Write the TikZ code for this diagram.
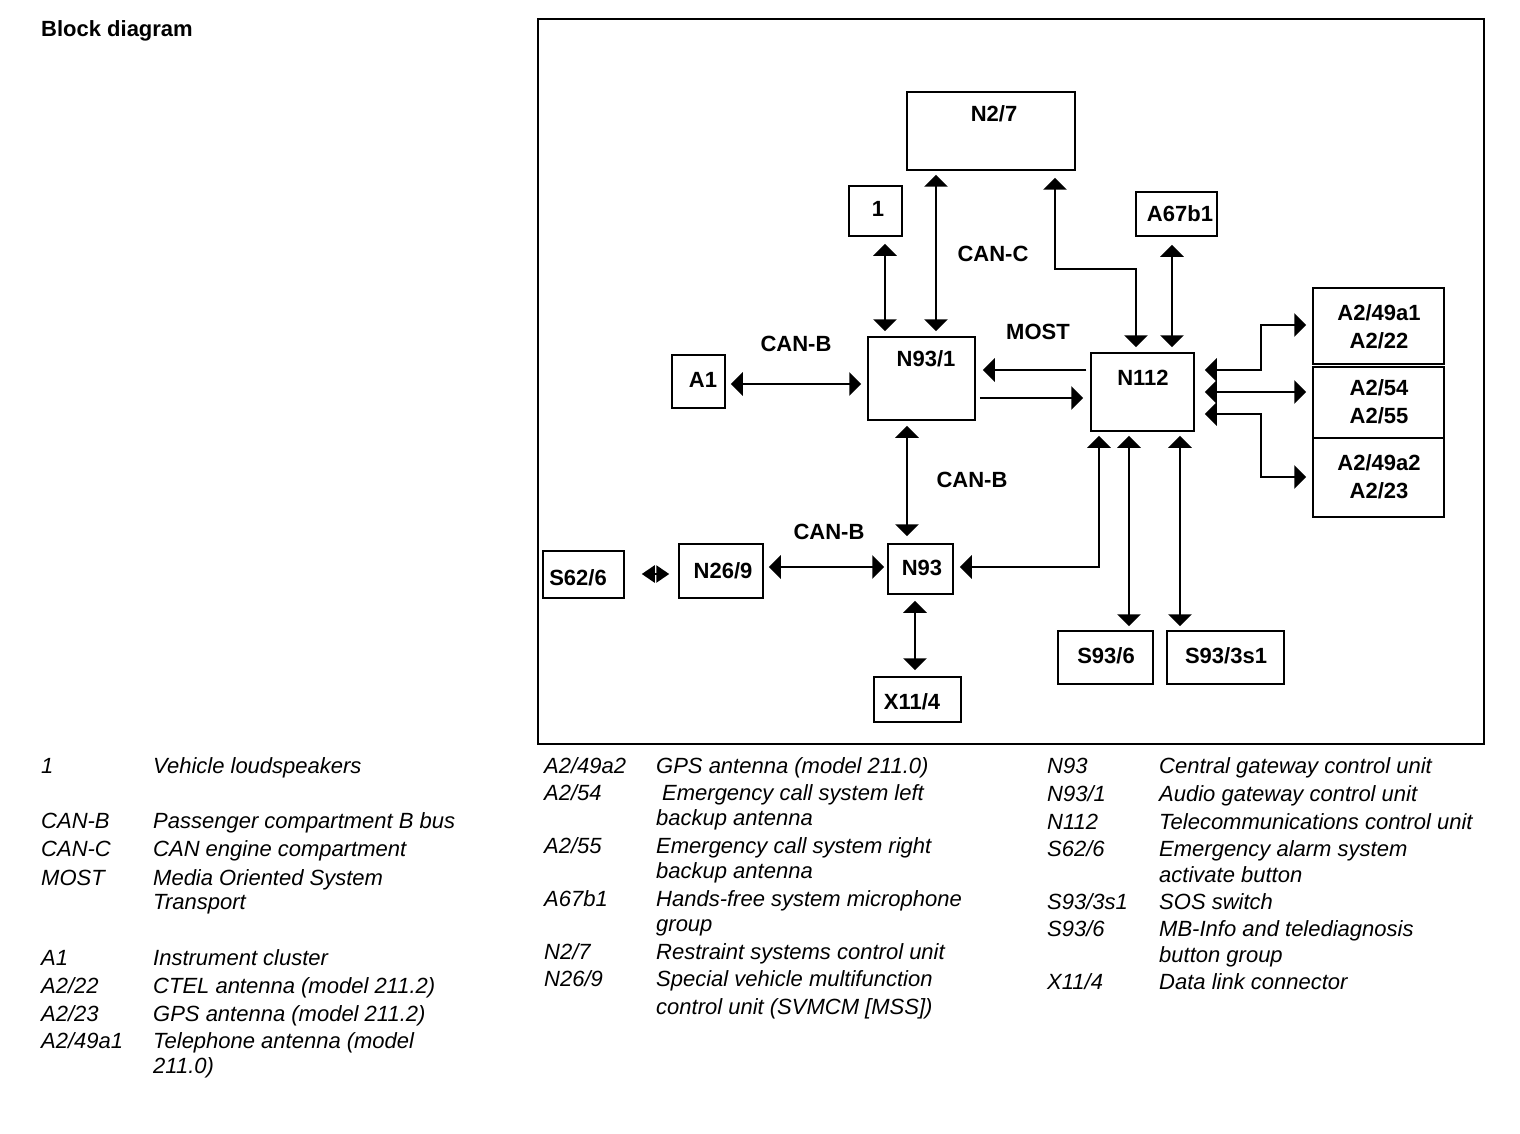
\documentclass[tikz,border=0pt]{standalone}
\usepackage{fontspec}
\setmainfont{Liberation Sans}
\usetikzlibrary{arrows.meta,calc}
\begin{document}
\begin{tikzpicture}[x=1pt,y=-1pt,
  box/.style={draw, line width=1.5pt, inner sep=0pt},
  lbl/.style={font=\fontsize{22pt}{26pt}\selectfont\bfseries, inner sep=0pt, text height=16pt, text depth=0pt},
  leg/.style={font=\fontsize{22pt}{26pt}\selectfont\itshape, inner sep=0pt, text height=16pt, text depth=0pt, anchor=west},
  bi/.style={line width=2.5pt, {Triangle[length=12pt,width=23pt]}-{Triangle[length=12pt,width=23pt]}},
  smallbi/.style={line width=2.5pt, {Triangle[length=13pt,width=17pt]}-{Triangle[length=13pt,width=17pt]}},
  uni/.style={line width=2.5pt, -{Triangle[length=12pt,width=23pt]}},
]
\fill[white] (0,0) rectangle (1520,1134);
\useasboundingbox (0,0) rectangle (1520,1134);

% title and frame
\node[lbl, anchor=west] (title) at (41,29) {Block diagram};
\draw[line width=1.5pt] (538,19) rectangle (1484,744);

% boxes
\node[box, minimum width=168pt, minimum height=78pt] (n27) at (991,131) {};
\node[lbl] (n27t) at (994,114) {N2/7};
\node[box, minimum width=53pt, minimum height=50pt] (b1) at (875.5,211) {};
\node[lbl] (b1t) at (878,209) {1};
\node[box, minimum width=81pt, minimum height=44pt] (a67) at (1176.5,214) {};
\node[lbl] (a67t) at (1180,214) {A67b1};
\node[box, minimum width=107pt, minimum height=83pt] (n931) at (921.5,378.5) {};
\node[lbl] (n931t) at (926,358) {N93/1};
\node[box, minimum width=53pt, minimum height=53pt] (a1) at (698.5,381.5) {};
\node[lbl] (a1t) at (703,379) {A1};
\node[box, minimum width=103pt, minimum height=78pt] (n112) at (1142.5,392) {};
\node[lbl] (n112t) at (1143,377) {N112};
\node[box, minimum width=131pt, minimum height=76pt] (st) at (1378.5,326) {};
\node[lbl] (st1) at (1379,312) {A2/49a1};
\node[lbl] (st2) at (1379,340) {A2/22};
\node[box, minimum width=131pt, minimum height=71pt] (sm) at (1378.5,402.5) {};
\node[lbl] (sm1) at (1379,387) {A2/54};
\node[lbl] (sm2) at (1379,415) {A2/55};
\node[box, minimum width=131pt, minimum height=79pt] (sb) at (1378.5,477.5) {};
\node[lbl] (sb1) at (1379,462) {A2/49a2};
\node[lbl] (sb2) at (1379,490) {A2/23};
\node[box, minimum width=81pt, minimum height=47pt] (s626) at (583.5,574.5) {};
\node[lbl] (s626t) at (578,577) {S62/6};
\node[box, minimum width=84pt, minimum height=54pt] (n269) at (721,571) {};
\node[lbl] (n269t) at (723,570) {N26/9};
\node[box, minimum width=65pt, minimum height=50pt] (n93) at (920.5,569) {};
\node[lbl] (n93t) at (922,567) {N93};
\node[box, minimum width=87pt, minimum height=45pt] (x114) at (917.5,699.5) {};
\node[lbl] (x114t) at (912,701) {X11/4};
\node[box, minimum width=95pt, minimum height=53pt] (s936) at (1105.5,657.5) {};
\node[lbl] (s936t) at (1106,655) {S93/6};
\node[box, minimum width=117pt, minimum height=53pt] (s933) at (1225.5,657.5) {};
\node[lbl] (s933t) at (1226,655) {S93/3s1};

% bus labels
\node[lbl] (lcanc) at (993,253) {CAN-C};
\node[lbl] (lcanb1) at (796,343) {CAN-B};
\node[lbl] (lmost) at (1038,331) {MOST};
\node[lbl] (lcanb2) at (972,479) {CAN-B};
\node[lbl] (lcanb3) at (829,531) {CAN-B};

% connectors
\draw[bi] ($(b1.south)+(9.5,7)$) -- ($(n931.north)+(-36.5,-5)$);
\draw[bi] ($(n27.south)+(-55,4)$) -- ($(n931.north)+(14.5,-5)$);
\coordinate (cc) at (1055,269);
\draw[bi] ($(n27.south)+(64,7)$) -- (cc) -| ($(n112.north)+(-6.5,-5)$);
\draw[bi] ($(a67.south)+(-4.5,8)$) -- ($(n112.north)+(29.5,-5)$);
\draw[bi] ($(a1.east)+(5,2.5)$) -- ($(n931.west)+(-6,5.5)$);
\draw[uni] ($(n112.west)+(-4,-22)$) -- ($(n931.east)+(7,-8.5)$);
\draw[uni] ($(n931.east)+(4,19.5)$) -- ($(n112.west)+(-7,6)$);
\draw[bi] ($(n931.south)+(-14.5,5)$) -- ($(n93.north)+(-13.5,-7)$);
\draw[bi] ($(n269.east)+(5,-4)$) -- ($(n93.west)+(-3,-2)$);
\draw[smallbi] ($(s626.east)+(17,-0.5)$) -- ($(n269.west)+(-9,3)$);
\draw[bi] ($(n93.south)+(-5.5,6)$) -- ($(x114.north)+(-2.5,-6)$);
\draw[bi] ($(n112.south)+(-43.5,4)$) |- ($(n93.east)+(6,-2)$);
\draw[bi] ($(n112.south)+(-13.5,4)$) -- ($(s936.north)+(23.5,-4)$);
\draw[bi] ($(n112.south)+(37.5,4)$) -- ($(s933.north)+(-45.5,-4)$);
\coordinate (kt) at (1261,325);
\coordinate (kb) at (1261,477);
\draw[bi] ($(n112.east)+(10,-22)$) -| (kt) -- ($(st.west)+(-6,-1)$);
\draw[bi] ($(n112.east)+(10,0)$) -- ($(sm.west)+(-6,-10.5)$);
\draw[bi] ($(n112.east)+(10,22)$) -| (kb) -- ($(sb.west)+(-6,-0.5)$);

% legend column 1
\node[leg] (c1a) at (41,765) {1};
\node[leg] (d1a) at (153,765) {Vehicle loudspeakers};
\node[leg] (c1b) at (41,820) {CAN-B};
\node[leg] (d1b) at (153,820) {Passenger compartment B bus};
\node[leg] (c1c) at (41,848) {CAN-C};
\node[leg] (d1c) at (153,848) {CAN engine compartment};
\node[leg] (c1d) at (41,877) {MOST};
\node[leg] (d1d) at (153,877) {Media Oriented System};
\node[leg] (d1e) at (153,901) {Transport};
\node[leg] (c1f) at (41,957) {A1};
\node[leg] (d1f) at (153,957) {Instrument cluster};
\node[leg] (c1g) at (41,985) {A2/22};
\node[leg] (d1g) at (153,985) {CTEL antenna (model 211.2)};
\node[leg] (c1h) at (41,1013) {A2/23};
\node[leg] (d1h) at (153,1013) {GPS antenna (model 211.2)};
\node[leg] (c1i) at (41,1040) {A2/49a1};
\node[leg] (d1i) at (153,1040) {Telephone antenna (model};
\node[leg] (d1j) at (153,1065) {211.0)};

% legend column 2
\node[leg] (c2a) at (544,765) {A2/49a2};
\node[leg] (d2a) at (656,765) {GPS antenna (model 211.0)};
\node[leg] (c2b) at (544,792) {A2/54};
\node[leg] (d2b) at (662,792) {Emergency call system left};
\node[leg] (d2c) at (656,817) {backup antenna};
\node[leg] (c2d) at (544,845) {A2/55};
\node[leg] (d2d) at (656,845) {Emergency call system right};
\node[leg] (d2e) at (656,870) {backup antenna};
\node[leg] (c2f) at (544,898) {A67b1};
\node[leg] (d2f) at (656,898) {Hands-free system microphone};
\node[leg] (d2g) at (656,923) {group};
\node[leg] (c2h) at (544,951) {N2/7};
\node[leg] (d2h) at (656,951) {Restraint systems control unit};
\node[leg] (c2i) at (544,978) {N26/9};
\node[leg] (d2i) at (656,978) {Special vehicle multifunction};
\node[leg] (d2j) at (656,1006) {control unit (SVMCM [MSS])};

% legend column 3
\node[leg] (c3a) at (1047,765) {N93};
\node[leg] (d3a) at (1159,765) {Central gateway control unit};
\node[leg] (c3b) at (1047,793) {N93/1};
\node[leg] (d3b) at (1159,793) {Audio gateway control unit};
\node[leg] (c3c) at (1047,821) {N112};
\node[leg] (d3c) at (1159,821) {Telecommunications control unit};
\node[leg] (c3d) at (1047,848) {S62/6};
\node[leg] (d3d) at (1159,848) {Emergency alarm system};
\node[leg] (d3e) at (1159,874) {activate button};
\node[leg] (c3f) at (1047,901) {S93/3s1};
\node[leg] (d3f) at (1159,901) {SOS switch};
\node[leg] (c3g) at (1047,928) {S93/6};
\node[leg] (d3g) at (1159,928) {MB-Info and telediagnosis};
\node[leg] (d3h) at (1159,954) {button group};
\node[leg] (c3i) at (1047,981) {X11/4};
\node[leg] (d3i) at (1159,981) {Data link connector};
\end{tikzpicture}
\end{document}
